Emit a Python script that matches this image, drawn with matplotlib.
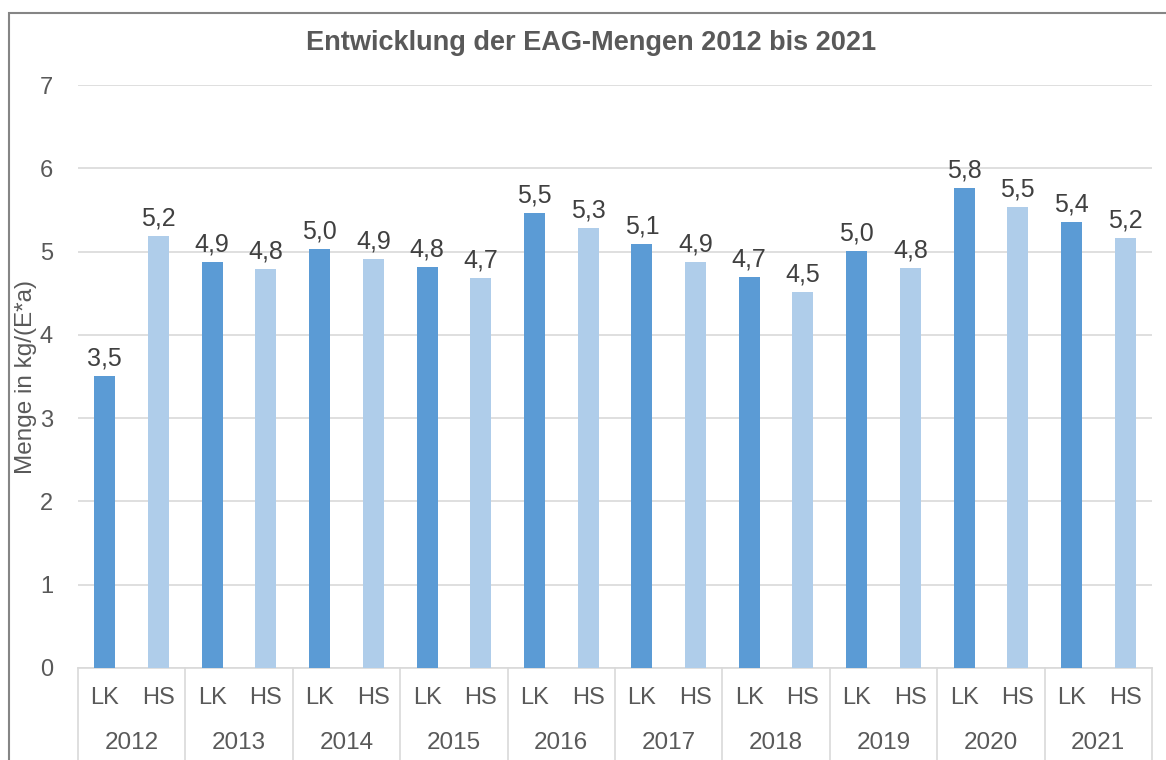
import matplotlib.pyplot as plt
import matplotlib.transforms as mtransforms
from matplotlib.patches import Rectangle

plt.rcParams['font.family'] = ['Liberation Sans', 'DejaVu Sans']

years = ['2012', '2013', '2014', '2015', '2016', '2017', '2018', '2019', '2020', '2021']
groups = ['LK', 'HS']
lk_values = [3.51, 4.87, 5.03, 4.81, 5.46, 5.09, 4.70, 5.01, 5.76, 5.36]
hs_values = [5.19, 4.79, 4.91, 4.68, 5.28, 4.88, 4.51, 4.80, 5.53, 5.16]

lk_color = '#5B9BD5'
hs_color = '#AFCDEA'
grid_color = '#D9D9D9'
text_color = '#595959'

fig = plt.figure(figsize=(11.66, 7.6), dpi=100)
ax = fig.add_axes([78 / 1166, 1 - 668 / 760, (1152 - 78) / 1166, (668 - 85) / 760])

lk_x = [2 * i for i in range(len(years))]
hs_x = [2 * i + 1 for i in range(len(years))]
bars_lk = ax.bar(lk_x, lk_values, width=0.39, color=lk_color, zorder=3)
bars_hs = ax.bar(hs_x, hs_values, width=0.39, color=hs_color, zorder=3)

def fmt(v):
    return f'{v:.1f}'.replace('.', ',')

ax.bar_label(bars_lk, labels=[fmt(v) for v in lk_values], padding=4,
             fontsize=18, color='#404040')
ax.bar_label(bars_hs, labels=[fmt(v) for v in hs_values], padding=4,
             fontsize=18, color='#404040')

ax.set_ylim(0, 7)
ax.set_xlim(-0.5, 2 * len(years) - 0.5)
ax.set_yticks(range(0, 8))
ax.yaxis.grid(True, color=grid_color, linewidth=1.2, zorder=0)
ax.tick_params(axis='y', length=0, pad=18, labelsize=17, labelcolor=text_color)
ax.set_xticks([])
for s in ['top', 'right', 'left']:
    ax.spines[s].set_visible(False)
ax.spines['bottom'].set_color(grid_color)
ax.spines['bottom'].set_linewidth(1.2)

# two-level category axis
trans = mtransforms.blended_transform_factory(ax.transData, ax.transAxes)
for i, year in enumerate(years):
    ax.text(2 * i, -0.051, groups[0], transform=trans, ha='center', va='center',
            fontsize=17, color=text_color)
    ax.text(2 * i + 1, -0.051, groups[1], transform=trans, ha='center', va='center',
            fontsize=17, color=text_color)
    ax.text(2 * i + 0.5, -0.128, year, transform=trans, ha='center', va='center',
            fontsize=17.5, color=text_color)
for i in range(len(years) + 1):
    ax.plot([2 * i - 0.5, 2 * i - 0.5], [0, -0.2], transform=trans, color=grid_color,
            linewidth=1.2, clip_on=False)

ax.set_ylabel('Menge in kg/(E*a)', fontsize=17.5, color=text_color)
ax.yaxis.set_label_coords(-0.0385, 0.5)

fig.text(591 / 1166, 1 - 43 / 760, 'Entwicklung der EAG-Mengen 2012 bis 2021',
         ha='center', va='center', fontsize=19.5, fontweight='bold', color=text_color)

# chart border (partly cut off, as in the reference)
fig.patches.append(Rectangle((8.5 / 1166, -0.1), 1.2, 1.1 - 12.5 / 760,
                             transform=fig.transFigure, fill=False,
                             edgecolor='#858585', linewidth=1.5))

fig.savefig('out.png', dpi=100)
